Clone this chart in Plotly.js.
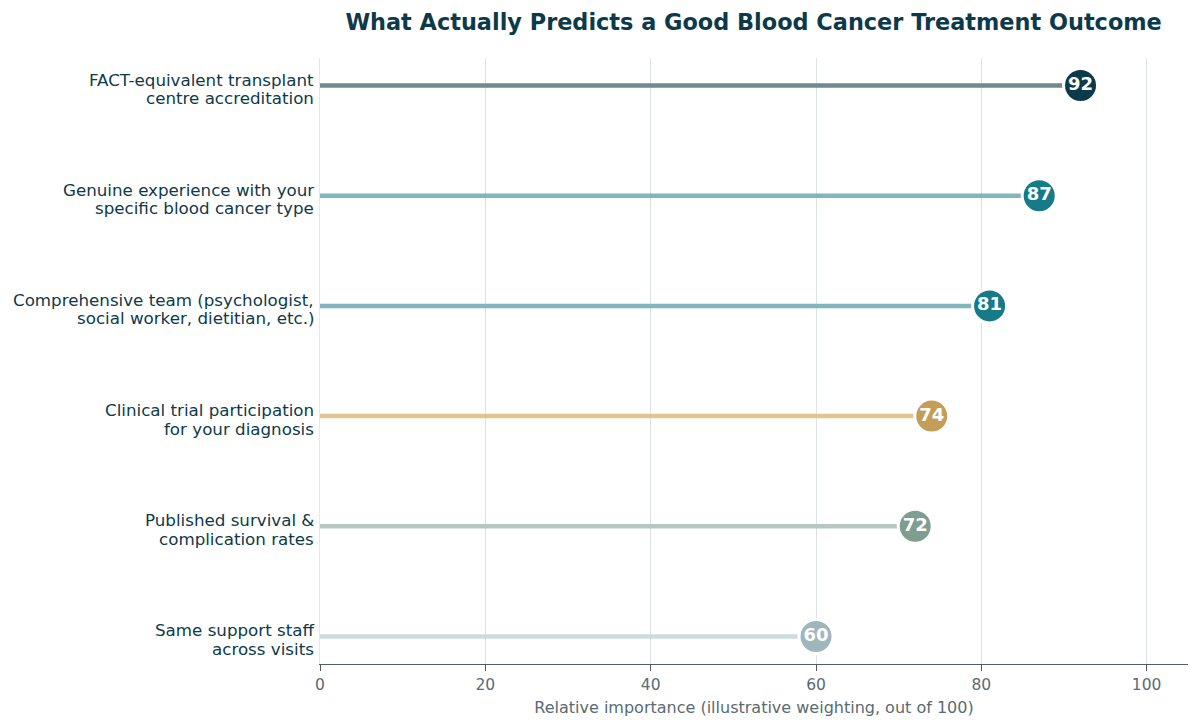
<!DOCTYPE html>
<html>
<head>
<meta charset="utf-8">
<script src="https://cdn.plot.ly/plotly-3.0.1.min.js"></script>
<style>html,body{margin:0;padding:0;background:#fff;}#chart{width:1200px;height:728px;}</style>
</head>
<body>
<div id="chart"></div>
<script>
// Data (bottom to top)
const categories = [
  "Same support staff across visits",
  "Published survival & complication rates",
  "Clinical trial participation for your diagnosis",
  "Comprehensive team (psychologist, social worker, dietitian, etc.)",
  "Genuine experience with your specific blood cancer type",
  "FACT-equivalent transplant centre accreditation"
];
const labelLine1 = [
  "Same support staff",
  "Published survival &amp;",
  "Clinical trial participation",
  "Comprehensive team (psychologist,",
  "Genuine experience with your",
  "FACT-equivalent transplant"
];
const labelLine2 = [
  "across visits",
  "complication rates",
  "for your diagnosis",
  "social worker, dietitian, etc.)",
  "specific blood cancer type",
  "centre accreditation"
];
const values = [60, 72, 74, 81, 87, 92];
const markerColors = ["#9fb6bd", "#7f9d91", "#c49d58", "#167a87", "#167a87", "#0d3a4a"];
const stemColors = ["#cddbdf", "#b6c7c3", "#e0c590", "#82b6bd", "#82b6bd", "#71898f"];
const xTicks = [0, 20, 40, 60, 80, 100];

const traces = [];
categories.forEach((c, i) => {
  traces.push({
    type: "scatter", mode: "lines",
    x: [0, values[i]], y: [c, c],
    line: {color: stemColors[i], width: 4.5},
    hoverinfo: "skip", showlegend: false, cliponaxis: false
  });
});
traces.push({
  type: "scatter", mode: "markers+text",
  x: values, y: categories,
  text: values.map(String),
  textposition: "middle center",
  textfont: {family: "DejaVu Sans", size: 18, color: "#ffffff", weight: "bold"},
  marker: {size: 34, color: markerColors, line: {color: "#ffffff", width: 3}},
  showlegend: false, cliponaxis: false
});

const annotations = [];
categories.forEach((c, i) => {
  [[labelLine1[i], 6], [labelLine2[i], -12.5]].forEach(([t, s]) => {
    annotations.push({
      xref: "paper", yref: "y", x: 0, y: c,
      xanchor: "right", yanchor: "middle", xshift: -4, yshift: s,
      text: t, showarrow: false,
      font: {family: "DejaVu Sans", size: 16.7, color: "#0d3a4a"}
    });
  });
});

const layout = {
  width: 1200, height: 728,
  paper_bgcolor: "#ffffff", plot_bgcolor: "#ffffff",
  margin: {l: 320, r: 12, t: 58, b: 64},
  font: {family: "DejaVu Sans", color: "#0d3a4a"},
  title: {
    text: "<b>What Actually Predicts a Good Blood Cancer Treatment Outcome</b>",
    font: {family: "DejaVu Sans", size: 22.4, color: "#0d3a4a"},
    x: 0.628, xanchor: "center", y: 0.97, yanchor: "middle"
  },
  xaxis: {
    range: [0, 105], tickvals: xTicks, ticktext: xTicks.map(String),
    showgrid: true, gridcolor: "#dde3e5", gridwidth: 1, zeroline: false,
    showline: true, linecolor: "#4e5f66", linewidth: 1.2,
    ticks: "outside", ticklen: 6, tickcolor: "#4e5f66",
    tickfont: {family: "DejaVu Sans", size: 15.5, color: "#5a6b72"},
    title: {text: "Relative importance (illustrative weighting, out of 100)", font: {family: "DejaVu Sans", size: 16, color: "#5a6b72"}, standoff: 9}
  },
  yaxis: {
    type: "category", categoryorder: "array", categoryarray: categories,
    range: [-0.25, 5.25],
    showgrid: false, zeroline: false,
    showline: true, linecolor: "#e3e8ea", linewidth: 1,
    ticks: "", showticklabels: false
  },
  annotations: annotations
};

Plotly.newPlot("chart", traces, layout, {displayModeBar: false, staticPlot: true});
</script>
</body>
</html>
